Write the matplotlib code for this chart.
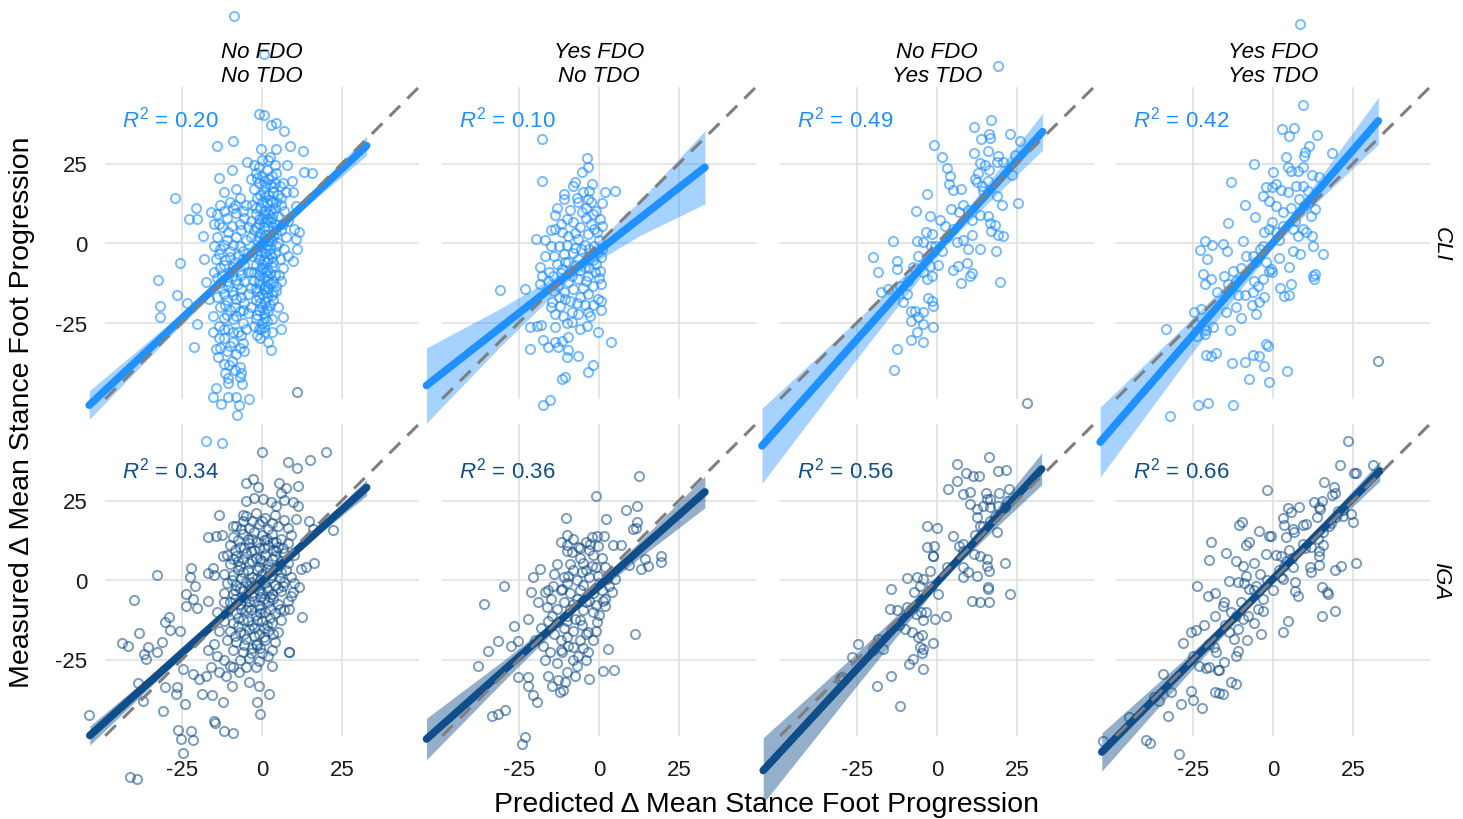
import numpy as np
import matplotlib
matplotlib.use("Agg")
import matplotlib.pyplot as plt

plt.rcParams['font.family'] = ['Liberation Sans', 'DejaVu Sans']
plt.rcParams['mathtext.fontset'] = 'custom'
plt.rcParams['mathtext.rm'] = 'Liberation Sans'
plt.rcParams['mathtext.it'] = 'Liberation Sans:italic'
plt.rcParams['axes.unicode_minus'] = False

# facet labels
strip_top = ["No FDO", "Yes FDO", "No FDO", "Yes FDO"]
strip_bot = ["No TDO", "No TDO", "Yes TDO", "Yes TDO"]
row_labels = ["CLI", "IGA"]
r2_text = [["0.20", "0.10", "0.49", "0.42"],
           ["0.34", "0.36", "0.56", "0.66"]]
ticks = [-25, 0, 25]

# ---- measured vs predicted points (x, y) ----
cli_nn = np.array([
    (-8.8, 71.4), (0.7, 59.4), (-0.8, 40.5), (0.7, 40.2), (2.8, 37), (4.4, 37.7), (6.9, 35.2), (-14, 30.5),
    (-9, 32), (-0.3, 29.5), (4.4, 29.5), (8.8, 30.4), (12.7, 28.9), (-4.7, 25.5), (-2.4, 24.5), (0, 26),
    (2.5, 27.2), (-9.5, 23), (-13.5, 20.4), (13, 22.3), (15.5, 22), (7.8, 24.6), (-27.3, 14.1), (-20.6, 11),
    (-22.7, 7.5), (-20.4, 7.5), (-18.5, 2.1), (-25.5, -6.3), (-32.4, -11.5), (-26.7, -16.5), (-31.8, -19.9),
    (-31.8, -23.4), (-23.5, -18.8), (-20.4, -25.4), (-21.1, -32.6), (-14.4, -33.3), (-13.9, -35.9),
    (-10.4, -38.5), (-10.7, -42.5), (-6.9, -42.2), (-6.2, -44.3), (-14.4, -45.7), (-15.4, -48.4),
    (-12.8, -50.5), (-10.7, -48.4), (-8.1, -48.4), (-7.1, -51), (-4.2, -48.9), (-7.7, -54.2), (-17.5, -62.3),
    (-12.5, -62.9), (2.8, -33.8), (5.9, -27.2), (6.7, -23.4), (-0.3, -27), (9.8, -5.7), (10.9, -1.9),
    (10.6, 1.3), (10.1, 4.4), (11.7, 3.4), (9.3, 19.5), (6.7, 19), (9.6, 15.9), (10.6, 11.7), (5.4, -10.2),
    (4.4, -13.4), (3.3, -15.5), (-17.5, -12.4), (-18, -5), (-16, 9.6), (-16.5, -17.6), (-15.4, -22.8),
    (-15.4, -28), (-13.3, -30),
    (-2, 22), (0, 21), (1.5, 23), (3, 21), (-1, 19), (1, 18), (2.5, 18.5), (4, 19), (-2.5, 17), (0.5, 16),
    (2, 15), (3.5, 16), (5, 15), (-1.5, 14), (0, 13), (1.5, 12.5), (3, 13), (-3, 12), (-0.5, 11), (1, 10),
    (2.5, 10.5), (4, 11), (6, 12), (-2, 9), (0, 8), (1.5, 7.5), (3, 8), (5, 8.5), (-1, 6), (0.5, 5), (2, 5.5),
    (3.5, 5), (-2.5, 4), (-0.5, 3), (1, 2.5), (2.5, 2), (4.5, 3), (6, 4), (-1.5, 1), (0, 0), (1.5, -0.5),
    (3, 0.5), (5, 0), (-2, -1.5), (-0.5, -2.5), (1, -3), (2.5, -2), (4, -3), (-3, -4), (-1, -5), (0.5, -5.5),
    (2, -5), (3.5, -6), (5.5, -5), (-2, -7), (0, -8), (1.5, -8.5), (3, -7.5), (-1, -10), (0.5, -11),
    (2, -10.5), (4, -10), (-2.5, -12), (-0.5, -13), (1, -13.5), (2.5, -12.5), (-1.5, -15), (0, -16),
    (1.5, -15.5), (3, -16.5), (-2, -18), (-0.5, -19), (1, -18.5), (2.5, -19.5), (-1, -21), (0.5, -22),
    (2, -21.5), (-2, -24), (0, -25), (1.5, -24.5), (-1, -27), (1, -28), (-0.5, -30), (2, -31), (6, 14),
    (7, 10), (6.5, 6), (7.5, 2), (7, -2), (6.5, -8), (7.5, 16), (8, 7), (8, -4), (-3.5, 20), (-3.5, 7),
    (-3.5, -9), (-3.5, -20), (4.5, 22), (5.5, 18), (-1, 24), (2, 26), (4, 24.5), (3, -24), (5, -20),
    (4.5, -15), (6, -12),
    (-1.5, 20.5), (0.5, 19.5), (2, 20), (3.5, 17.5), (-0.5, 15), (1, 14.5), (2.5, 13.5), (4.5, 13), (-2, 11),
    (0.5, 9), (2, 9), (3.5, 9.5), (-1, 7.5), (1, 6.5), (2.5, 6.5), (4, 6), (-2, 5), (-1, 2), (0.5, 1.5),
    (2, 0.5), (3.5, 2.5), (-0.5, -1), (1, -1.5), (2.5, -3.5), (4.5, -1), (-1.5, -3.5), (0, -6.5), (1.5, -6),
    (3, -4.5), (-2.5, -9), (-0.5, -8.5), (1, -9), (2.5, -9.5), (-1, -12), (1.5, -12), (3.5, -12), (-2, -14),
    (0.5, -14.5), (2, -14), (-1, -17), (1.5, -17), (3.5, -18), (0, -20), (1.5, -20.5), (-1.5, -22.5),
    (1, -23.5), (-2.5, -26), (0.5, -26.5), (-1.5, -29), (3, -28),
    (-13, 12), (-10, 13), (-7, 14), (-5, 12), (-14, 9), (-11, 8), (-8, 9.5), (-5.5, 8), (-12.5, 5),
    (-9.5, 5.5), (-6.5, 4), (-4.5, 5), (-14, 2), (-11, 1), (-8, 2), (-5, 1), (-13, -2), (-10, -2.5), (-7, -1),
    (-4.5, -3), (-14.5, -5), (-11.5, -5.5), (-8.5, -6), (-6, -5), (-13, -8), (-10, -9), (-7, -8.5),
    (-4.5, -9), (-14, -11), (-11, -12), (-8, -11.5), (-5.5, -12), (-12.5, -14), (-9.5, -15), (-6.5, -14.5),
    (-4.5, -16), (-14, -17), (-11, -18), (-8, -17.5), (-5.5, -19), (-13, -20), (-10, -21), (-7, -21.5),
    (-4.5, -22), (-12, -23.5), (-9, -24), (-6, -25), (-13.5, -26), (-10.5, -27), (-7.5, -28), (-5, -27),
    (-12, -30), (-9, -31), (-6, -31.5), (-11, -34), (-8, -35), (-5.5, -34), (-9.5, -37), (-7, -39),
    (-12, -38), (-15, -1), (-15, -9), (-15, 6), (-9, 11), (-3.5, 2), (-3.5, -14), (-12, 16), (-8, 17),
    (-10.5, -44), (-6.5, -41), (-11.5, -41),
    (-12, 10), (-8.5, 12), (-6, 10), (-13.5, 6), (-10.5, 3.5), (-7, 6), (-12, -0.5), (-9, -0.5), (-6, -2.5),
    (-13.5, -3.5), (-10, -4.5), (-7.5, -4), (-12, -7), (-9, -7.5), (-5.5, -7), (-12.5, -10), (-9.5, -10.5),
    (-6.5, -10), (-13, -12.5), (-10.5, -13.5), (-7.5, -13), (-12, -16), (-9, -16.5), (-6.5, -17),
    (-11.5, -19.5), (-8.5, -20), (-6, -21), (-11, -22.5), (-8, -23), (-12, -27), (-9, -28), (-6.5, -29),
    (-10, -32.5), (-7, -33), (-8.5, -40), (-13, -33),
])

cli_yn = np.array([
    (-17.9, 32.7), (-17.9, 19.6), (-3.9, 26.6), (-3.5, 23.8), (-5.4, 22.2), (-7.5, 19.3), (-2.1, 18.5),
    (1.9, 16.1), (5, 16.2), (-10.9, 13.8), (-7, 14.1), (-6.5, 12.8), (-3.3, 13.8), (-2.5, 12.8), (1, 12.6),
    (-13.8, 8.8), (-10, 7.7), (-5.4, 9.6), (-1.8, 9.1), (0.3, 7.5), (-19.7, 1.3), (-16.9, 1.0), (-13.8, 4.4),
    (-11.7, 3.4), (-9.6, 2.3), (-6.5, 1.3), (-3.3, 2.8), (-0.7, 3.4), (0.8, 5.4), (-16.9, -4), (-18.4, -7.6),
    (-17.9, -10.3), (-18.4, -12.9), (-30.9, -14.8), (-23.1, -14.5), (-14.3, -10.3), (-11.7, -8.2),
    (-9.6, -6.1), (-6.5, -5), (-3.3, -4), (-0.2, -2.9), (-12.7, -13.4), (-9.6, -12.4), (-6.5, -11.3),
    (-3.3, -10.3), (-1.3, -9.2), (0.3, -8.7), (-14.8, -18.6), (-12.2, -19.7), (-9.1, -18.1), (-5.9, -17.1),
    (-3.3, -16), (-0.2, -17.6), (0.6, -18.1), (-13.8, -22.3), (-11.1, -22.8), (-8.5, -21.8), (-6.5, -22.3),
    (-3.3, -21.8), (-21.6, -26.5), (-19.5, -26), (-18.1, -25.8), (-13.8, -26.5), (-8.5, -24.9), (-3.9, -26),
    (-2.8, -22.8), (-0.4, -28.1), (3.8, -31), (-17.4, -30.4), (-13.9, -31.2), (-11.7, -30.7), (-9.6, -29.6),
    (-21.6, -33.3), (-15.8, -32.8), (-12.7, -32.8), (-9.6, -33.8), (-6.5, -35.4), (-10.1, -35.9),
    (-11.7, -42.7), (-10.6, -42.2), (-3.3, -40.6), (-1.8, -38.5), (-17.4, -51.1), (-15.3, -49.5),
    (-13, 11), (-9, 10.5), (-4, 11), (-1, 10), (-12, 6), (-8, 6.5), (-6, 5), (-2.5, 6), (0, 1), (-15, -1),
    (-12.5, -1), (-10, -0.5), (-7.5, -1.5), (-4.5, -0.5), (-1.5, -1), (1, -2), (-14, -4), (-11, -3.5),
    (-8, -3), (-5.5, -2), (-2, -5.5), (0.5, -4.5), (-13, -6.5), (-10.5, -6), (-7.5, -7), (-4.5, -7.5),
    (-1, -6.5), (-15.5, -9), (-12, -9.5), (-9, -9), (-6, -8.5), (-3, -8), (0, -11), (-14, -15), (-11, -15.5),
    (-8, -14.5), (-5, -14), (-2, -13.5), (0.5, -13), (-12.5, -17), (-7, -19), (-2, -19.5), (0.5, -21),
    (-10, -25), (-6, -27), (-15, -20), (-16, -12), (-15, 4), (-11, 15.5), (-5, 16), (-3, 16.5), (-8, 18),
    (-4, 8), (-1.5, 4.5), (-7.5, 3), (-3, -2), (-8.5, -10.5), (-4, -12), (-10.5, -17.5), (-4.5, -19.5),
])

cli_ny = np.array([
    (19.2, 55.7), (16.8, 38.7), (11.7, 36.5), (16.3, 34.2), (16.6, 32.9), (22.8, 34.2), (25.9, 32.1),
    (-0.8, 30.9), (13.8, 32.7), (11.7, 28.3), (16, 28.8), (19.2, 27.4), (20.7, 25.5), (18.6, 25.5),
    (1.5, 26.9), (3, 23.6), (4.1, 21.2), (3.9, 18.5), (4.9, 16.8), (7.5, 17), (13.4, 25.1), (15, 24.6),
    (16.4, 22.9), (12.7, 22), (11.9, 20.1), (12.6, 19.3), (16, 19.6), (14.5, 16.4), (18.6, 14.9), (20.2, 12),
    (25.4, 12.6), (23.3, 21.5), (24.4, 27.7), (-3.2, 15.4), (-6.7, 10.2), (-2.2, 8.6), (0.9, 7.3), (2.5, 5.2),
    (4.3, 10.7), (6.9, 9.6), (9.8, 10.5), (10.8, 7.3), (13.4, 8.8), (16, 8.4), (16.6, 6.3), (18.1, 5.7),
    (16.8, 3.9), (19.2, 2.5), (20.5, 2.1), (10.8, 2.5), (-13.6, 0.7), (-6.4, 0.7), (-3.5, 3.4), (-1.7, 2.8),
    (-4.3, 0.2), (-0.6, -0.8), (1.5, -2.4), (6.1, 0.2), (8, 1), (5.1, 4.4), (-19.9, -4.3), (-18.5, -9.2),
    (-12.6, -5.8), (-12.6, -8.2), (-7.6, -7.4), (-4.3, -9.2), (-2.2, -7.1), (0.2, -6.8), (-1.7, -10.3),
    (-3, -11.3), (5.1, -8.4), (6.7, -7.1), (9.3, -6.4), (9.8, -1.9), (13.4, -1.9), (18.3, -2.6),
    (19.7, -12.4), (7.4, -12.6), (10.3, -10.3), (10.8, -9.4), (-17.6, -15.5), (-15.2, -14.5),
    (-11.6, -13.4), (-9.5, -16), (-10.5, -18.4), (-8.2, -21.3), (-6.9, -21.3), (-4.3, -21.6), (-5.8, -23.4),
    (-1.7, -18.1), (-1.1, -19.7), (-2.7, -17.4), (-8.1, -24.4), (-6.4, -28.1), (-4.5, -25.4), (-1.1, -26.5),
    (-8.1, -30.5), (-4.5, -31), (-12.6, -33.3), (-13.4, -39.8), (-9, -12), (-6, -4), (-2, -1), (3, 2),
    (8, 12), (14, 18),
])

cli_yy = np.array([
    (8.4, 68.8), (9.5, 43.4), (2.8, 36), (5.1, 33.7), (6.7, 36.3), (13.9, 33.9), (11.3, 30.6), (10.1, 28.7),
    (9.8, 27.4), (18.3, 28.2), (-6, 24.8), (4.1, 26.9), (4.6, 24), (5.6, 22.7), (7.7, 22.7), (9.3, 23.8),
    (12.2, 21.5), (14.5, 20.6), (-0.1, 22.2), (-13.2, 19.2), (-2.2, 17.5), (-0.3, 17.5), (0.9, 18.5),
    (2.5, 16.8), (4.6, 15.9), (7.2, 18), (9.3, 18), (10.8, 16.4), (-3.2, 14.9), (-1.1, 13.3), (0.9, 11.7),
    (3, 9.6), (5.6, 10.9), (8.2, 13.8), (9.8, 11.7), (11.9, 8.6), (13, 10.7), (11.4, 12.8), (-8.6, 11.9),
    (-5.5, 8.1), (-14.2, 6.3), (-0.3, 6.7), (-2.7, 3.4), (-1.1, 4.4), (0.9, 3.4), (3, 5.4), (6.1, 4.4),
    (7.7, 2.3), (9.3, 4.4), (10.3, 3.4), (12.2, 2.1), (12.4, -0.8), (15.5, -3.5), (8.5, -3.5), (6.1, -2.4),
    (-21.1, 0.7), (-19, -0.6), (-22.7, -2.1), (-15.7, -0.3), (-14.5, -2.4), (-20.6, -5), (-9.5, 0.7),
    (-8.5, -4.2), (-6.4, -4), (-3.2, -0.8), (-5.3, -6.1), (-2.2, -6.1), (-0.6, -8.2), (2, -4.8), (5.1, -7.6),
    (-22, -9.9), (-19.4, -11.3), (-21.3, -12.9), (-15.2, -10.3), (-12.4, -8.7), (-14.2, -12.9),
    (-11.6, -11.8), (-5.8, -11.8), (-3.2, -11.3), (-4.8, -13.4), (-1.1, -8.7), (-0.3, -9.2), (-17.5, -15.5),
    (-11, -16.3), (-8.9, -16.5), (-6.4, -15.5), (-2.7, -17.1), (-4.3, -18.6), (2.3, -14.2), (5.6, -12.9),
    (3.5, -16.8), (4.9, -16.3), (12.4, -10.3), (13.2, -9.7), (12.9, -11.3), (-24.8, -21.8), (-22.5, -20.7),
    (-14.7, -21.8), (-11.6, -20.2), (-10, -23.7), (-6.6, -19.5), (-5.3, -22.3), (-33.4, -27),
    (-24.3, -25.4), (-20.9, -27.5), (-18.6, -26.5), (-21.1, -28.6), (-23.9, -29.1), (-13.4, -27.3),
    (-20.9, -35.2), (-19.4, -35.6), (-17.8, -34.6), (-12.8, -37.7), (-8.6, -37.5), (-6.1, -35.2),
    (-4.3, -35.6), (-2.2, -31.7), (-1.7, -32.5), (-2.7, -38.7), (-7.4, -42.7), (-1.1, -43.6), (4.3, -40.4),
    (-23.3, -51.1), (-20.2, -50.4), (-12.6, -50.8), (-32.1, -54.4), (-10, -8), (-4, -2), (2, 1), (7, 7),
])

iga_nn = np.array([
    (11, 59.2), (0, 40.4), (20, 40.4), (8, 37.2), (10.9, 35.2), (15, 37.6), (-5, 30.5), (-2.9, 31.7),
    (-1.4, 29.3), (5.2, 30.4), (7.5, 28.9), (11.1, 29.6), (5.9, 27.5), (-5, 24.9), (-2.4, 25.8), (0.2, 25.4),
    (2.8, 24.6), (4.4, 23.4), (7, 25.1), (9.6, 24.4), (-13.5, 20.4), (-9.2, 17.1), (-6, 20.4), (-17, 13.4),
    (-14.4, 13.7), (-12.5, 14.1), (11.1, 23.4), (10.6, 19.2), (14.8, 18.6), (15.8, 16), (22.1, 15.8),
    (-22.2, 3.7), (-22.4, 0.8), (-20.8, -1.8), (-32.9, 1.7), (-17, 2.1), (-14.9, 1.6), (-12.1, 7.4),
    (-15.2, 3.9), (16.4, 5.3), (13.8, 4), (12.2, 3.5), (11.7, -2.3), (9.6, -3.9), (8.5, -9.1), (12.5, -11.7),
    (8.5, -22.7), (-39.9, -6.3), (-38.3, -16.8), (-43.9, -19.9), (-41.8, -20.8), (-31.3, -19.4),
    (-29, -11.5), (-30.2, -13.3), (-28.6, -15.6), (-25.5, -15.9), (-35.7, -21.2), (-36.3, -24.8),
    (-37, -23.4), (-32.9, -22.7), (-23.8, -4.4), (-23.8, -8.1), (-21.7, -6), (-20.4, -8.8), (-17, -6.5),
    (-54, -42.6), (-38.9, -32.4), (-37.3, -37.9), (-31, -41.3), (-30.2, -33.7), (-26.7, -33.7),
    (-26.9, -35.8), (-24, -39), (-26.4, -47.3), (-25.3, -49.9), (-22.2, -47.6), (-21.5, -50.2),
    (-24.6, -54.5), (-41.3, -62), (-39.2, -62.7), (-14.9, -44.2), (-14.6, -45), (-11.8, -47.6),
    (-9.2, -48.1), (-12.3, -38.4), (-18.8, -35.8), (-15.6, -36.1), (-9.5, -33.2), (-4.2, -32.1),
    (-1.7, -38.4), (-0.8, -33.2), (-0.6, -42.1), (2.3, -35.8), (3.1, -27.2), (8.3, -22.7), (-24.8, -28),
    (-21.7, -29.5), (-19.6, -31.1), (-17.5, -30.1), (-15.9, -27.4), (-13.3, -29), (-11.2, -30.1),
    (-9.2, -27.4), (-7.1, -29), (-5, -27.4), (-1.9, -27.4),
    (-5, 20), (-2, 21), (1, 19.5), (4, 20.5), (7, 19), (-8, 17), (-4, 16.5), (-1, 17.5), (2, 16), (5, 17),
    (8, 16.5), (-9, 13.5), (-6, 14.5), (-3, 13), (0, 14), (3, 14.5), (6, 13), (9, 14), (-10, 11), (-7, 10.5),
    (-4, 11.5), (-1, 10), (2, 11), (5, 10.5), (8, 11.5), (-11, 8), (-8, 7.5), (-5, 8.5), (-2, 7), (1, 8),
    (4, 7.5), (7, 8.5), (10, 8), (-10, 5), (-7, 4.5), (-4, 5.5), (-1, 4), (2, 5), (5, 4.5), (8, 5.5), (-12, 2),
    (-9, 1.5), (-6, 2.5), (-3, 1), (0, 2), (3, 1.5), (6, 2.5), (9, 1), (-11, -1), (-8, -1.5), (-5, -0.5),
    (-2, -2), (1, -1), (4, -1.5), (7, -0.5), (10, -1), (-12, -4), (-9, -4.5), (-6, -3.5), (-3, -5), (0, -4),
    (3, -4.5), (6, -3.5), (9, -5), (-10, -7), (-7, -7.5), (-4, -6.5), (-1, -8), (2, -7), (5, -7.5), (8, -6.5),
    (-11, -10), (-8, -10.5), (-5, -9.5), (-2, -11), (1, -10), (4, -10.5), (7, -9.5), (-12, -13), (-9, -13.5),
    (-6, -12.5), (-3, -14), (0, -13), (3, -13.5), (6, -12.5), (-10, -16), (-7, -16.5), (-4, -15.5),
    (-1, -17), (2, -16), (5, -16.5), (-11, -19), (-8, -19.5), (-5, -18.5), (-2, -20), (1, -19), (4, -19.5),
    (-9, -22), (-6, -22.5), (-3, -21.5), (0, -23), (3, -22), (-7, -25), (-4, -24.5), (-1, -25.5), (2, -24),
    (-6.5, 16), (-2.5, 15), (0.5, 12.5), (3.5, 12), (-3.5, 9), (-0.5, 6.5), (2.5, 3), (-1.5, 0.5),
    (1.5, -2.5), (-3.5, -2.5), (-0.5, -5.5), (2.5, -5.5), (-4.5, -8.5), (-0.5, -9), (2.5, -12), (-2.5, -15),
    (0.5, -15), (-5.5, -17), (-1.5, -20.5), (-7.5, -12), (-8.5, -3), (-7.5, 6), (4.5, 9), (6.5, -2),
    (-12, -7), (-14, -10), (-13.5, -16), (-15, -20), (-14, -24), (-17, -22), (-12, -25), (-10, -27),
    (-6, 18.5), (-3, 18.5), (0, 18.5), (3, 18), (-7.5, 12.5), (-4.5, 13), (-1.5, 12), (1.5, 13), (4.5, 12),
    (-8.5, 9.5), (-5.5, 10), (-2.5, 9.5), (0.5, 10), (3.5, 9.5), (6.5, 10), (-9, 6.5), (-6, 6.5), (-3, 6),
    (0, 6), (3, 6.5), (6, 6), (-7.5, 3), (-4.5, 3), (-1.5, 3), (1.5, 3.5), (4.5, 3), (7.5, 3), (-9.5, 0),
    (-6.5, 0.5), (-3.5, -0.5), (-0.5, 0), (2.5, 0.5), (5.5, 0.5), (-7, -2.5), (-4, -2), (-1, -3), (2, -3),
    (5, -2.5), (-8.5, -6), (-5.5, -5.5), (-2.5, -6.5), (0.5, -6), (3.5, -6), (-6.5, -9), (-3.5, -9.5),
    (-0.5, -10.5), (2.5, -9), (5.5, -9), (-7.5, -14.5), (-4.5, -13), (-1.5, -12.5), (1.5, -14),
    (-5.5, -20.5), (-2.5, -17.5), (0.5, -18), (3.5, -17), (-8.5, -17.5), (-3.5, -23), (-0.5, -21.5),
])

iga_yn = np.array([
    (12.6, 32.6), (-1, 26.5), (-10.4, 19.5), (2.2, 19.2), (-10.1, 14.2), (8.4, 22.1), (11.8, 23.4),
    (11.8, 18.3), (10.7, 16), (11.5, 16.3), (-2.3, 13.4), (-0.7, 13.7), (1.7, 13.9), (4.5, 11), (6.9, 11),
    (-2.8, 11.3), (-0.2, 10.8), (-6.5, 10.3), (-8.5, 8.7), (14.4, 6.6), (15.4, 4.5), (19.3, 7.4),
    (19.3, 5.8), (13.1, 3.5), (9.4, 4.7), (-18.4, 3.5), (-20.5, 0.8), (-29.6, -1.8), (-35.8, -7.5),
    (-21.3, -3.9), (-16.9, -3.9), (-14.3, -1.8), (-11.7, -2.8), (-9.6, 1.4), (-5.4, 2.4), (-2.3, 4.5),
    (-0.2, 1.4), (2.4, 0.3), (5, 0.3), (4, -3.9), (1.4, -6.5), (1.9, -8.1), (-22.1, -12.3), (-26.5, -14.6),
    (-31.5, -19.1), (-34.6, -22.4), (-37.7, -26.9), (-27.5, -20.6), (-25.4, -19.1), (-16.4, -8.6),
    (-14.8, -11.2), (-12.7, -13.3), (-10.1, -11.2), (-7.5, -12.3), (-5.4, -14.3), (-3.3, -16.4),
    (-0.7, -13.3), (11.3, -17), (2.9, -21.7), (1.4, -28.7), (4.8, -28.2), (-17.4, -20.6), (-15.3, -22.7),
    (-11.7, -22.7), (-9.6, -20.6), (-6.5, -23.8), (-3.3, -22.7), (-25.2, -30.6), (-22.1, -30.6),
    (-22.3, -33.2), (-20.5, -36.1), (-19.5, -38.4), (-15.8, -30.1), (-14.8, -33.2), (-12.7, -31.6),
    (-10.6, -32.1), (-7.5, -30.1), (-3.1, -31.1), (-12.1, -35.3), (-11.1, -34.5), (-33.5, -42.9),
    (-31.5, -42.1), (-29.4, -41), (-24.2, -51.5), (-23.1, -49.4),
    (-12, 12), (-8, 13), (-4, 12), (-10, 9), (-6, 7), (-2, 8), (1, 7), (-13, 5), (-9, 5), (-5, 5.5), (-1, 4),
    (2, 4), (-14, 2), (-11, 1), (-7, 0), (-3, 1), (0, -1), (3, -2), (-12, -3), (-9, -4), (-6, -3), (-2, -4),
    (1, -3), (-15, -6), (-11, -7), (-7, -6), (-4, -7), (-1, -8), (2, -6), (-13, -9), (-9, -9), (-5, -9.5),
    (-2, -10), (0, -11), (-16, -13), (-11, -15), (-8, -16), (-4, -17), (-1, -16), (-14, -17), (-10, -18),
    (-6, -19), (-2, -19), (-12, -22), (-8, -25), (-4, -25), (-13, -26), (-10, -29), (-7, -27), (-17, -25),
    (-18, -15), (-16, -3), (-19, -7), (-20, -19),
    (-10, 11), (-6, 10), (-3, 9.5), (-8, 3), (-4, 3), (-10, -1), (-5, -1.5), (-8, -7.5), (-3, -6.5),
    (-10, -13), (-6, -12.5), (-12, -19), (-8, -21), (-5, -21.5),
])

iga_ny = np.array([
    (28, 55.7), (16.4, 38.7), (6.1, 36.4), (9.1, 33.6), (11.1, 32.6), (13, 32.8), (19.2, 34.3), (21.6, 34.7),
    (3.5, 28.6), (6.1, 31.2), (8.2, 27), (10.3, 27.7), (10.3, 23.9), (12.4, 22.3), (12.4, 19.7), (13.4, 17.1),
    (15.3, 27.5), (15.5, 25.4), (16.6, 25.4), (14.5, 23.4), (16.6, 22.8), (19.5, 27.5), (22.6, 28.6),
    (19.1, 23.4), (21.1, 22.8), (16.6, 18.6), (18.6, 15), (14.5, 17.1), (-3.2, 17.1), (-0.1, 16.5),
    (5.1, 13.7), (6.9, 10.8), (8.2, 11.3), (-3.2, 10.3), (-0.8, 10.6), (-1.4, 7.4), (-1.1, 7.6), (11.6, 8.2),
    (13.4, 7.6), (15.5, 6.6), (15.7, 4.5), (16.4, 2.9), (21.4, 5.5), (8.2, 4), (9.8, 2.4), (8.2, 0.8),
    (12.4, 1.4), (16, -2.3), (15.9, -2.8), (22.8, -4.4), (10.9, -6.5), (13.3, -6.8), (16.2, -7), (-9.5, 0.5),
    (-6.4, 0.8), (-5.3, -1.8), (-4.3, 0.3), (-2.2, 2.9), (0.4, -4.4), (-14.4, -2.8), (-7.1, -3.9),
    (-14.7, -9.1), (-12.6, -9.3), (-9.5, -8.6), (-6.6, -10.7), (-5.1, -10.1), (-3.4, -10.1), (-0.6, -12.3),
    (2.8, -11.2), (-4.3, -12.5), (-10, -15.3), (-7.9, -16.3), (-6, -17.9), (-4.8, -17.4), (-5.3, -21.1),
    (-4.3, -21.6), (-1.4, -19.7), (-24.6, -20.1), (-26.7, -24.3), (-18.3, -18.5), (-16.8, -21.7),
    (-30.3, -31.1), (-29.8, -30.6), (-14.4, -30.1), (-18.9, -33.2), (-11.6, -39.7), (-4.3, -28),
    (-7.4, -24.8), (-8.9, -26.4), (-4.8, -23.1), (-20, -22), (-12, -14), (-8, -9), (-2, -2), (3, 4), (8, 9),
    (12, 14), (18, 20), (22, 25),
])

iga_yy = np.array([
    (32.7, 69), (23.4, 43.6), (20.9, 36.1), (25.4, 33.8), (25.9, 33.8), (31.4, 36.1), (-2, 28.3),
    (16, 30.7), (19.2, 29.1), (19.5, 27.5), (18.4, 26.7), (15.2, 24.9), (12.7, 24.6), (14.3, 22.8),
    (14.8, 22.3), (20.2, 21.8), (24.4, 20.7), (25, 18.1), (21.8, 20.2), (19.7, 19.7), (4.6, 22.5), (8, 23.1),
    (5.6, 21.5), (3, 19.4), (3.5, 17.3), (6.1, 16), (9.3, 17.3), (10.3, 17.6), (13.6, 19.7), (17.6, 17.1),
    (15.5, 15), (-9.8, 18.1), (-10.5, 17.3), (-4.3, 15.3), (-1.1, 13.9), (-0.6, 13.9), (-7.4, 11.8),
    (-8.5, 11), (-19.5, 11.8), (-14.6, 8.5), (-20, 6.4), (4, 13.5), (6.7, 15), (4.9, 9.5), (9.3, 11.3),
    (11.9, 10.3), (14.3, 9.2), (15.5, 11), (14.5, 7.6), (-11.6, 6.1), (-9.5, 4.5), (-5.8, 5.3), (0.9, 7.9),
    (-2.2, 8.2), (2.5, 7.6), (3.5, 4.5), (6.1, 4), (11.6, 4.2), (14.5, 4.8), (19.3, 3.2), (21.4, 4.5),
    (25.9, 5.3), (11.9, 2.4), (7, -0.7), (7, -3.4), (7.7, -5), (-23.9, -2), (-20.4, -4.9), (-18, -4),
    (-13.6, -0.2), (-11, -0.7), (-8.4, 1.4), (-7.4, -2.8), (-5.3, -1.8), (-3.2, -6), (-4.8, -9.1),
    (-3.2, -9.9), (2.5, 0.8), (3.1, 0.3), (4.6, -12.8), (3, -16.4), (-3.8, -17), (-5.9, -13.6),
    (-7.7, -11.3), (-9.5, -12.3), (15.2, -2.3), (16.8, -3.9), (17.1, -4.4), (15.2, -11.4), (19.5, -9.8),
    (-18, -11.2), (-15.7, -8.1), (-15.2, -6.8), (-13.1, -10.2), (-11.6, -11.2), (-11, -15.4), (-13.6, -16.4),
    (-12.1, -18.5), (-11, -22.2), (-11.6, -23.8), (-8, -18.8), (-28.2, -19.9), (-25.6, -16.4), (-24, -15.6),
    (-21.5, -14.3), (-18.3, -21.2), (-17.8, -22.7), (-23, -26.9), (-20.9, -27.7), (-19.9, -27.4),
    (-17, -28.2), (-15.2, -25.9), (-17.3, -28.4), (-34.3, -29.5), (-31.9, -35.1), (-25.6, -34.8),
    (-25.1, -37.6), (-28.7, -39), (-22.2, -40.3), (-18, -35.3), (-16.8, -35.6), (-15.7, -35.8),
    (-13.1, -32.1), (-11.6, -32.7), (-32.9, -42.8), (-39.7, -50.2), (-38.4, -51.2), (-29.5, -54.7),
    (-53, -50.5), (-44.9, -43.1), (-37.1, -36.9), (-35.5, -37.9), (-20, -20), (-15, -14), (-10, -7),
    (-6, -3), (-2, 0), (2, 3), (6, 7), (10, 10), (14, 13), (18, 18), (22, 22), (-25, -24), (-9, -1), (-4, 2),
    (0, -3), (4, 6),
])

points = [[cli_nn, cli_yn, cli_ny, cli_yy],
          [iga_nn, iga_yn, iga_ny, iga_yy]]

# ---- fitted lines (end points) and confidence band edges ----
line_x = [[(-54, 32.7), (-53.9, 33.1), (-54.7, 33), (-54, 32.9)],
          [(-53.8, 32.7), (-53.9, 33.1), (-54.3, 32.7), (-53.5, 33.4)]]
line_y = [[(-51, 30.6), (-44.8, 23.8), (-63.8, 35), (-62.6, 38.4)],
          [(-48.9, 29.1), (-50, 27.7), (-59.9, 34.9), (-54.1, 34.3)]]
band_x = [[(-54, -30, -3, 15, 32.7), (-53.9, -31, -8, 12.5, 33.1),
           (-54.7, -25, 3, 18, 33), (-54, -27, 0, 16, 32.9)],
          [(-53.8, -30, -3, 15, 32.7), (-53.9, -30, -7, 13, 33.1),
           (-54.3, -26, 2, 17, 32.7), (-53.5, -28, -3, 15, 33.4)]]
band_lo = [[(-55.5, -30.6, -3.9, 12.4, 27.6), (-56.6, -32.7, -10.2, 2.2, 12.3),
            (-75.6, -36.3, -0.3, 14.6, 29.2), (-73.6, -36.9, -1.4, 15.0, 31.0)],
           [(-51.9, -28.9, -3.7, 12.1, 26.6), (-56.5, -32, -9.1, 7.2, 22.7),
            (-70.2, -34.4, 0.3, 15.1, 29.9), (-60.1, -31.2, -3.6, 13.8, 31.1)]]
band_hi = [[(-46.5, -26.2, -2.1, 15.4, 33.6), (-33.0, -20.7, -7.0, 13.0, 35.3),
            (-52.0, -24.3, 2.7, 21.6, 40.8), (-51.6, -25.5, 1.6, 22.4, 45.8)],
           [(-45.9, -25.9, -2.5, 14.3, 31.6), (-43.5, -25.4, -7.1, 12.4, 32.7),
            (-49.6, -23.8, 2.7, 20.5, 39.9), (-48.1, -25.2, -2.0, 17.2, 37.5)]]

row_colors = ["#1E90FF", "#104E8B"]
point_alpha = [0.6, 0.55]
band_alpha = [0.4, 0.45]

# ---- layout in pixels ----
W, H = 1463, 820
X0 = [262, 599, 937, 1273]   # pixel position of x = 0 per column
Y0 = [244, 581]              # pixel position of y = 0 per row
SX, SY = 3.2, 3.18           # pixels per unit
LIM = 49

fig = plt.figure(figsize=(W / 100, H / 100), dpi=100)

for r in range(2):
    col = row_colors[r]
    for c in range(4):
        left = (X0[c] - LIM * SX) / W
        bottom = 1 - (Y0[r] + LIM * SY) / H
        ax = fig.add_axes([left, bottom, 2 * LIM * SX / W, 2 * LIM * SY / H])
        ax.patch.set_visible(False)
        ax.set_xlim(-LIM, LIM)
        ax.set_ylim(-LIM, LIM)
        ax.set_xticks(ticks)
        ax.set_yticks(ticks)
        ax.grid(True, color="#DEDEDE", lw=1.1)
        ax.set_axisbelow(True)
        for s in ax.spines.values():
            s.set_visible(False)
        ax.tick_params(length=0, labelsize=16, labelcolor="#1a1a1a",
                       labelbottom=(r == 1), labelleft=(c == 0))
        ax.tick_params(axis="y", pad=13)
        ax.tick_params(axis="x", pad=17)

        pts = points[r][c]
        ax.plot(pts[:, 0], pts[:, 1], "o", mfc="none", mec=col, mew=1.4, ms=6.6,
                alpha=point_alpha[r], clip_on=False)
        ax.fill_between(band_x[r][c], band_lo[r][c], band_hi[r][c], color=col,
                        alpha=band_alpha[r], lw=0, clip_on=False)
        ax.plot(line_x[r][c], line_y[r][c], color=col, lw=5.5,
                solid_capstyle="round", clip_on=False)
        ax.plot([-LIM, LIM], [-LIM, LIM], color="#7F7F7F", lw=2.2,
                ls=(0, (4.9, 3.3)), clip_on=False)

        ax.text(-43.8, 39 if r == 0 else 34.6, r"$R^2$ = " + r2_text[r][c],
                color=col, fontsize=16, ha="left", va="center")

# facet strips
for c in range(4):
    fig.text(X0[c] / W, 1 - 53 / H, strip_top[c], ha="center", va="center",
             fontsize=16, style="italic")
    fig.text(X0[c] / W, 1 - 77 / H, strip_bot[c], ha="center", va="center",
             fontsize=16, style="italic")
for r in range(2):
    fig.text(1441 / W, 1 - Y0[r] / H, row_labels[r], ha="center", va="center",
             fontsize=16, style="italic", rotation=-90)

fig.text(22 / W, 1 - 412 / H, "Measured \u0394 Mean Stance Foot Progression",
         rotation=90, ha="center", va="center", fontsize=20.5)
fig.text(767 / W, 1 - 805 / H, "Predicted \u0394 Mean Stance Foot Progression",
         ha="center", va="center", fontsize=20.5)

fig.savefig("out.png", dpi=100)
